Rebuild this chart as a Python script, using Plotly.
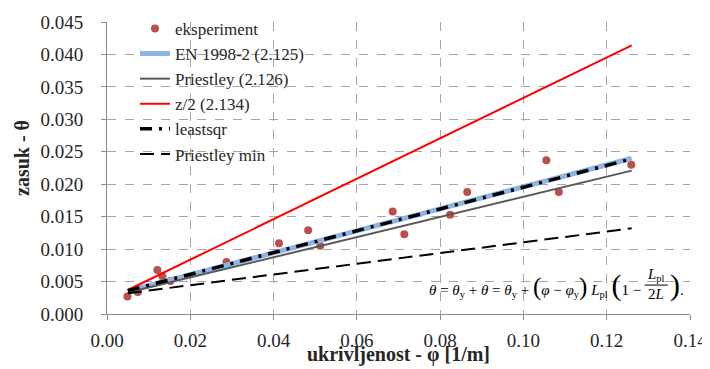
import plotly.graph_objects as go

# experimental points
exp_x = [0.0049, 0.0074, 0.0121, 0.0133, 0.0152, 0.0287, 0.0413, 0.0483, 0.0512,
         0.0686, 0.0714, 0.0824, 0.0865, 0.1085, 0.1055, 0.1259]
exp_y = [0.0027, 0.0034, 0.0068, 0.0058, 0.0051, 0.0080, 0.0109, 0.0129, 0.0105,
         0.0158, 0.0123, 0.0153, 0.0188, 0.0188, 0.0237, 0.0230]

line_x = [0.005, 0.126]
en1998_y = [0.0035, 0.0240]
priestley_y = [0.0033, 0.0221]
z2_y = [0.0037, 0.0414]
leastsqr_y = [0.0036, 0.0239]
priestley_min_y = [0.0032, 0.0132]

x_ticks = [0.00, 0.02, 0.04, 0.06, 0.08, 0.10, 0.12, 0.14]
y_ticks = [0.000, 0.005, 0.010, 0.015, 0.020, 0.025, 0.030, 0.035, 0.040, 0.045]

FONT = "Times New Roman, Liberation Serif, serif"
TXT = "#262626"

fig = go.Figure()
fig.add_trace(go.Scatter(x=exp_x, y=exp_y, mode="markers", name="eksperiment",
                         marker=dict(color="#B9504C", size=8)))
fig.add_trace(go.Scatter(x=line_x, y=en1998_y, mode="lines", name="EN 1998-2 (2.125)",
                         line=dict(color="#8DB4E2", width=5)))
fig.add_trace(go.Scatter(x=line_x, y=priestley_y, mode="lines", name="Priestley (2.126)",
                         line=dict(color="#595959", width=2)))
fig.add_trace(go.Scatter(x=line_x, y=z2_y, mode="lines", name="z/2 (2.134)",
                         line=dict(color="#FF0000", width=2)))
fig.add_trace(go.Scatter(x=line_x, y=leastsqr_y, mode="lines", name="leastsqr",
                         line=dict(color="#000000", width=3.5, dash="12px,7px,3px,7px")))
fig.add_trace(go.Scatter(x=line_x, y=priestley_min_y, mode="lines", name="Priestley min",
                         line=dict(color="#000000", width=2, dash="14px,7px")))

axis_common = dict(
    showline=True, linecolor="#8C8C8C", linewidth=1,
    showgrid=True, gridcolor="#A6A6A6", gridwidth=1, griddash="dash",
    zeroline=False, ticks="outside", ticklen=5, tickcolor="#8C8C8C",
    tickfont=dict(family=FONT, size=19, color=TXT),
    automargin=False,
)

fig.update_xaxes(range=[0, 0.14], tickvals=x_ticks, tickformat=".2f",
                 ticklabelstandoff=4, ticklabeloverflow="allow", **axis_common)
fig.update_yaxes(range=[0, 0.045], tickvals=y_ticks, tickformat=".3f",
                 ticklabelstandoff=14, **axis_common)

# page body has an 8px margin; margins are offset to compensate
fig.update_layout(
    width=710, height=369,
    margin=dict(l=99, r=28, t=14, b=63, autoexpand=False),
    paper_bgcolor="white", plot_bgcolor="white",
    font=dict(family=FONT, size=17, color=TXT),
    legend=dict(x=0.048, y=1.038, xanchor="left", yanchor="top",
                bgcolor="rgba(255,255,255,0)", tracegroupgap=0,
                font=dict(family=FONT, size=17, color=TXT)),
    showlegend=True,
)

# axis titles
fig.add_annotation(xref="paper", yref="paper", x=0.5, y=-0.140, xanchor="center", yanchor="middle",
                   showarrow=False, font=dict(family=FONT, size=20, color=TXT),
                   text="<b>ukrivljenost - φ [1/m]</b>")
fig.add_annotation(xref="paper", yref="paper", x=-0.146, y=0.534, xanchor="center", yanchor="middle",
                   showarrow=False, textangle=-90,
                   font=dict(family=FONT, size=20, color=TXT),
                   text="<b>zasuk - θ</b>")

# equation annotation
eq_font = dict(family=FONT, size=15, color="#000000")
fig.add_annotation(xref="paper", yref="paper", x=0.919, y=0.099, xanchor="right", yanchor="middle",
                   showarrow=False, font=eq_font,
                   text="<i>θ</i> = <i>θ</i><sub>y</sub> + <i>θ</i> = <i>θ</i><sub>y</sub> + "
                        "<span style='font-size:25px'>(</span><i>φ</i> − <i>φ</i><sub>y</sub>"
                        "<span style='font-size:25px'>)</span> <i>L</i><sub>pl</sub> "
                        "<span style='font-size:30px'>(</span>1 −")
fig.add_annotation(xref="paper", yref="paper", x=0.942, y=0.099, xanchor="center", yanchor="bottom",
                   showarrow=False, font=eq_font, yshift=-1,
                   text="<i>L</i><sub>pl</sub>")
fig.add_annotation(xref="paper", yref="paper", x=0.942, y=0.099, xanchor="center", yanchor="top",
                   showarrow=False, font=eq_font, yshift=1,
                   text="2<i>L</i>")
fig.add_shape(type="line", xref="paper", yref="paper", x0=0.922, x1=0.962, y0=0.099, y1=0.099,
              line=dict(color="#000000", width=1))
fig.add_annotation(xref="paper", yref="paper", x=0.962, y=0.099, xanchor="left", yanchor="middle",
                   showarrow=False, font=eq_font,
                   text="<span style='font-size:30px'>)</span>.")

fig.write_html("out.html")
